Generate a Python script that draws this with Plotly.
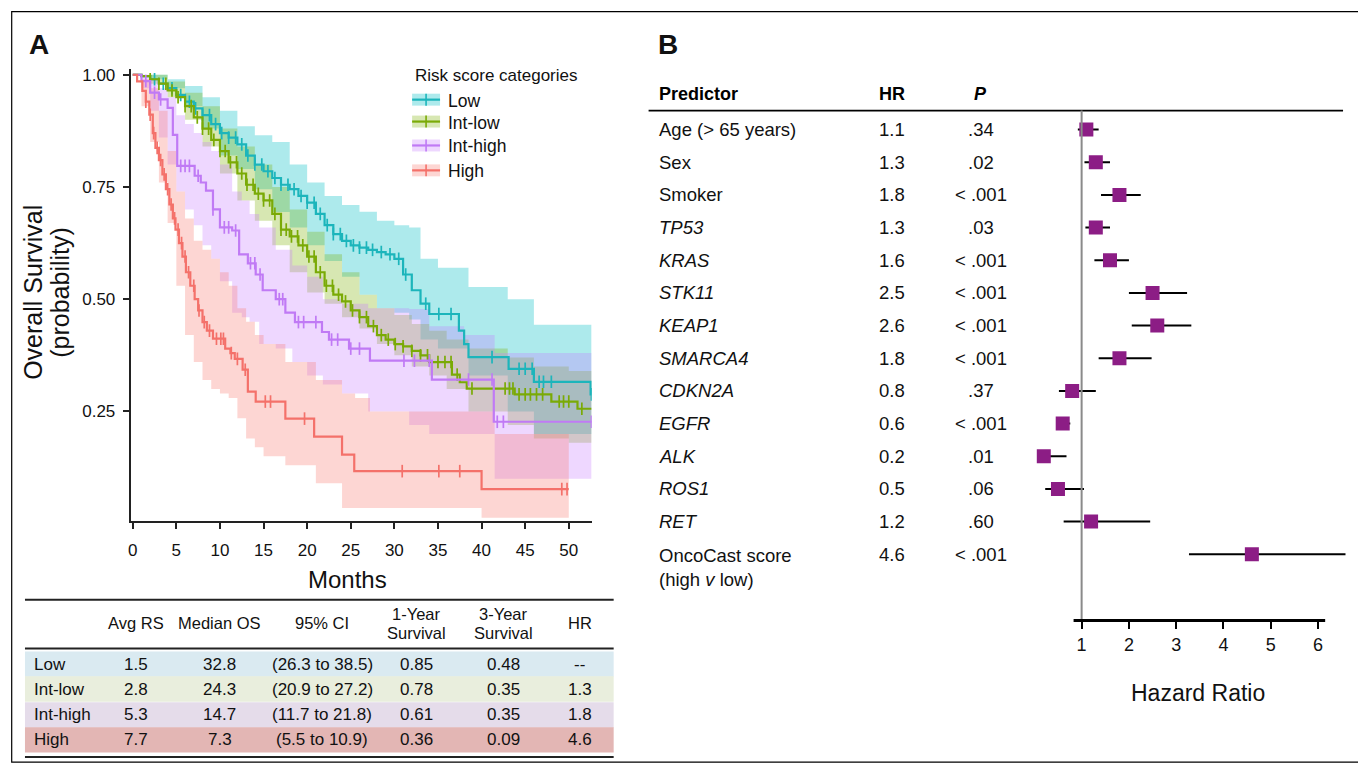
import numpy as np
import plotly.graph_objects as go

# page offset (browser body margin) compensation
OFF = 8
FW, FH = 1366 - OFF, 769 - OFF
FONT = "Liberation Sans, Arial, sans-serif"

# ---------------- Panel A: Kaplan-Meier data ----------------
groups = ["Low", "Int-low", "Int-high", "High"]
line_colors = ["#1CB5BB", "#7AAA06", "#C07AF5", "#F4716A"]
band_colors = ["rgba(0,191,196,0.32)", "rgba(124,174,0,0.30)",
               "rgba(199,124,255,0.30)", "rgba(248,118,109,0.30)"]

low_t = [0, 1, 2, 3, 4, 5, 6, 7, 8, 9, 10, 11, 12, 13, 14, 15, 16, 17, 18, 19, 20, 21, 22, 23, 24,
         25, 26, 27, 28, 29, 30, 31, 32, 33, 34, 37.4, 38, 38.5, 43.1, 46, 52.5, 52.6]
low_s = [1, .997, .99, .98, .97, .955, .94, .925, .91, .89, .87, .86, .845, .82, .80, .785, .77, .755,
         .745, .73, .715, .69, .665, .645, .63, .62, .615, .61, .605, .60, .59, .555, .52, .49, .467,
         .43, .40, .371, .345, .316, .288, .288]

intlow_t = [0, 1, 2, 3, 4, 5, 6, 7, 8, 9, 10, 11, 12, 13, 14, 15, 16, 17, 18, 19, 20, 21, 22, 23, 24,
            25, 26, 27, 28, 29, 30, 31, 32, 33, 34, 36.6, 37.5, 38.3, 43.8, 48, 51, 52.6]
intlow_s = [1, .997, .99, .98, .965, .95, .93, .905, .88, .855, .83, .805, .78, .755, .735, .72, .69,
            .655, .64, .62, .595, .56, .53, .51, .495, .475, .46, .44, .42, .41, .40, .395, .385, .375,
            .36, .332, .315, .301, .288, .272, .256, .256]

inthigh_t = [0, 1, 2, 3, 4, 4.6, 5.1, 7.1, 7.8, 8.4, 9.2, 10, 11.4, 12.2, 13.2, 14.1, 14.9, 16.4,
             17.5, 18.6, 21.7, 22.5, 24.8, 27.2, 34.3, 41.4, 52.6]
inthigh_s = [1, .986, .96, .945, .926, .866, .797, .775, .76, .742, .70, .66, .653, .60, .58, .555,
             .52, .50, .47, .449, .427, .41, .39, .363, .321, .227, .227]

high_t = [0, 0.5, 1.1, 1.5, 1.9, 2.3, 2.6, 3, 3.4, 3.8, 4.2, 4.6, 4.9, 5.3, 5.7, 6.1, 6.6, 7.1, 7.5,
          8, 8.5, 9.2, 10.6, 11.2, 11.7, 12.6, 13.2, 14.1, 17.5, 20.8, 24, 25.4, 40, 50]
high_s = [1, .985, .964, .94, .911, .87, .837, .81, .778, .745, .711, .68, .655, .625, .595, .56, .53,
          .50, .475, .449, .43, .412, .39, .38, .367, .343, .294, .272, .234, .194, .154, .117, .077,
          .077]

# censoring times
low_cens = [2.5, 3.5, 4.5, 5.5, 6.5, 7.2, 8, 8.8, 9.5, 10.2, 11, 11.8, 12.5, 13.2, 14, 14.8, 15.5,
            16.3, 17, 17.8, 18.5, 19.3, 20, 20.8, 21.5, 22.3, 23, 23.8, 24.5, 25.3, 26, 26.8, 27.5,
            28.5, 29.5, 30.5, 31.3, 33.6, 35.1, 36.5, 41.2, 44.3, 45, 45.8, 46.6, 47.1, 48, 52.6]
intlow_cens = [2, 3, 3.8, 4.5, 5.2, 6, 6.7, 7.4, 8, 8.7, 9.3, 10, 10.6, 11.2, 11.9, 12.5, 13.1, 13.8,
               14.4, 15, 15.7, 16.3, 17, 17.6, 18.2, 18.9, 19.5, 20.2, 20.8, 21.5, 22.2, 22.9, 23.6,
               24.4, 25.2, 26, 26.8, 27.6, 28.5, 29.3, 30.1, 31, 32, 33, 33.8, 35, 35.8, 36.5, 37.2,
               38.9, 42.7, 43.2, 43.6, 44.3, 45, 45.6, 46.3, 47, 48.9, 49.4, 50, 51.5]
inthigh_cens = [1.5, 2.5, 3.2, 5.5, 6, 6.5, 7.5, 9.2, 10.5, 11, 11.8, 13.5, 14, 14.6, 16.8, 17.2, 19,
                19.6, 21, 22.8, 23.5, 25, 26, 31.1, 32.3, 34, 38.5, 41.2, 41.8, 42.5, 52.6]
high_cens = [1.5, 2, 2.4, 2.8, 3.2, 3.6, 4, 4.4, 4.8, 5.2, 5.6, 6, 6.4, 7, 7.6, 8.2, 8.8, 9.6, 10.1,
             10.4, 11.3, 12, 12.9, 15.2, 15.8, 19.7, 30.9, 35.1, 37.5, 49.2, 49.8]

# 95% confidence bands (step)
low_band_t = [0, 2, 4, 6, 8, 10, 12, 14, 16, 18, 20, 22, 24, 26, 28, 30, 31.7, 33, 35, 38.5, 43, 46, 52.6]
low_up = [1, 1, .99, .975, .95, .92, .885, .865, .85, .80, .76, .73, .71, .695, .675, .665, .66, .59,
          .57, .527, .50, .443, .443]
low_lo = [1, .99, .97, .93, .88, .82, .79, .745, .694, .66, .62, .585, .55, .51, .48, .47, .455, .41,
          .39, .33, .25, .20, .18]

intlow_band_t = [0, 2, 4, 6, 8, 10, 12, 14, 16, 18, 20, 22, 24, 26, 28, 30, 32, 34, 36, 38.5, 43, 46, 50, 52.6]
intlow_up = [1, 1, .985, .96, .93, .88, .84, .80, .75, .70, .65, .60, .56, .51, .48, .465, .445, .43,
             .41, .39, .37, .35, .34, .33]
intlow_lo = [1, .98, .95, .90, .84, .78, .72, .675, .62, .56, .515, .49, .46, .435, .40, .375, .35,
             .33, .30, .25, .22, .19, .18, .18]

inthigh_band_t = [0, 1, 2, 3, 4, 5, 6, 7, 8, 9, 10, 11.4, 12.5, 13.4, 14.5, 16.4, 18.3, 20, 21.8, 24,
                  27, 31.7, 34, 38, 41.5, 52.6]
inthigh_up = [1, 1, .99, .97, .95, .91, .89, .87, .85, .83, .80, .74, .72, .69, .66, .61, .575, .55,
              .50, .49, .48, .478, .44, .42, .38, .38]
inthigh_lo = [1, .97, .92, .86, .80, .74, .70, .665, .62, .59, .54, .47, .46, .45, .40, .39, .36, .33,
              .31, .29, .25, .22, .20, .20, .10, .10]

high_band_t = [0, 1, 2, 3, 4, 5, 6, 7, 8, 9, 10, 11, 12, 13, 14, 15, 17.5, 21, 24, 25.5, 27.2, 40, 41.5, 50]
high_up = [1, .99, .97, .92, .83, .74, .68, .63, .61, .59, .56, .53, .48, .45, .42, .40, .36, .32,
           .29, .28, .25, .25, .20, .20]
high_lo = [1, .93, .85, .76, .67, .53, .42, .36, .32, .30, .29, .28, .235, .19, .17, .15, .13, .09,
           .035, .035, .035, .013, .013, .013]

km_x_ticks = [0, 5, 10, 15, 20, 25, 30, 35, 40, 45, 50]
km_y_ticks = [0.25, 0.50, 0.75, 1.00]
km_y_ticktext = ["0.25", "0.50", "0.75", "1.00"]

# Table (panel A)
table_headers = ["Avg RS", "Median OS", "95% CI", "1-Year<br>Survival", "3-Year<br>Survival", "HR"]
table_rows = ["Low", "Int-low", "Int-high", "High"]
avg_rs = ["1.5", "2.8", "5.3", "7.7"]
median_os = ["32.8", "24.3", "14.7", "7.3"]
ci95 = ["(26.3 to 38.5)", "(20.9 to 27.2)", "(11.7 to 21.8)", "(5.5 to 10.9)"]
surv_1y = ["0.85", "0.78", "0.61", "0.36"]
surv_3y = ["0.48", "0.35", "0.35", "0.09"]
hr_table = ["--", "1.3", "1.8", "4.6"]
row_fills = ["#DAEAF1", "#E9EEDD", "#E5DCEA", "#E3B6B4"]

# ---------------- Panel B: forest plot data ----------------
predictors = ["Age (> 65 years)", "Sex", "Smoker", "<i>TP53</i>", "<i>KRAS</i>", "<i>STK11</i>",
              "<i>KEAP1</i>", "<i>SMARCA4</i>", "<i>CDKN2A</i>", "<i>EGFR</i>", "<i>ALK</i>",
              "<i>ROS1</i>", "<i>RET</i>", "OncoCast score<br>(high <i>v</i> low)"]
hr_vals = [1.1, 1.3, 1.8, 1.3, 1.6, 2.5, 2.6, 1.8, 0.8, 0.6, 0.2, 0.5, 1.2, 4.6]
hr_low = [0.92, 1.06, 1.41, 1.08, 1.27, 2.0, 2.06, 1.36, 0.52, 0.5, 0.12, 0.23, 0.62, 3.27]
hr_high = [1.36, 1.6, 2.25, 1.6, 2.0, 3.23, 3.32, 2.48, 1.3, 0.76, 0.68, 1.05, 2.45, 6.58]
p_vals = [".34", ".02", "< .001", ".03", "< .001", "< .001", "< .001", "< .001", ".37", "< .001",
          ".01", ".06", ".60", "< .001"]
forest_ticks = [1, 2, 3, 4, 5, 6]


def px(x):
    return (x - OFF) / FW


def py(y):
    return 1 - (y - OFF) / FH


def note(text, x, y, size, xanchor="center", yanchor="middle", **kw):
    d = dict(text=text, x=px(x), y=py(y), xref="paper", yref="paper", showarrow=False,
             xanchor=xanchor, yanchor=yanchor, font=dict(family=FONT, size=size, color="#111"))
    d.update(kw)
    return d


fig = go.Figure()

km_t = [low_t, intlow_t, inthigh_t, high_t]
km_s = [low_s, intlow_s, inthigh_s, high_s]
km_c = [low_cens, intlow_cens, inthigh_cens, high_cens]
band_t = [low_band_t, intlow_band_t, inthigh_band_t, high_band_t]
band_up = [low_up, intlow_up, inthigh_up, high_up]
band_lo = [low_lo, intlow_lo, inthigh_lo, high_lo]

for i in range(4):
    fig.add_trace(go.Scatter(x=band_t[i], y=band_lo[i], mode="lines",
                             line=dict(width=0, shape="hv"), hoverinfo="skip",
                             showlegend=False, xaxis="x", yaxis="y"))
    fig.add_trace(go.Scatter(x=band_t[i], y=band_up[i], mode="lines",
                             line=dict(width=0, shape="hv"), fill="tonexty",
                             fillcolor=band_colors[i], hoverinfo="skip",
                             showlegend=False, xaxis="x", yaxis="y"))

for i in range(4):
    fig.add_trace(go.Scatter(x=km_t[i], y=km_s[i], mode="lines", name=groups[i],
                             line=dict(color=line_colors[i], width=2.2, shape="hv"),
                             showlegend=False, xaxis="x", yaxis="y"))
    t = np.array(km_t[i])
    s = np.array(km_s[i])
    c = np.array(km_c[i])
    idx = np.clip(np.searchsorted(t, c, side="right") - 1, 0, len(s) - 1)
    fig.add_trace(go.Scatter(x=c, y=s[idx], mode="markers", showlegend=False,
                             marker=dict(symbol="line-ns", size=9,
                                         line=dict(color=line_colors[i], width=1.7)),
                             xaxis="x", yaxis="y"))

# forest plot
ypos = list(range(len(predictors)))
fig.add_trace(go.Scatter(
    x=hr_vals, y=ypos, mode="markers", xaxis="x2", yaxis="y2", showlegend=False,
    marker=dict(symbol="square", size=14, color="#8C1D85"),
    error_x=dict(type="data", symmetric=False,
                 array=[h - v for h, v in zip(hr_high, hr_vals)],
                 arrayminus=[v - l for l, v in zip(hr_low, hr_vals)],
                 thickness=2, width=0, color="black")))

shapes = []
annotations = []

# outer frame (clipped to the figure)
shapes.append(dict(type="rect", xref="paper", yref="paper", x0=px(OFF + 0.7), x1=px(1360),
                   y0=py(762), y1=py(OFF + 0.7), line=dict(color="black", width=1.2)))

# panel letters
annotations.append(note("<b>A</b>", 36, 42, 28))
annotations.append(note("<b>B</b>", 666, 42, 28))

# KM axis titles
annotations.append(note("Overall Survival", 30, 290, 25, textangle=-90))
annotations.append(note("(probability)", 57, 290, 25, textangle=-90))
annotations.append(note("Months", 345, 579, 24))

# KM legend
annotations.append(note("Risk score categories", 411, 73, 17, xanchor="left"))
legend_y = [97, 119, 143, 168]
for i in range(4):
    yc = legend_y[i]
    shapes.append(dict(type="rect", xref="paper", yref="paper", x0=px(410), x1=px(438),
                       y0=py(yc + 6), y1=py(yc - 6), fillcolor=band_colors[i],
                       line=dict(width=0)))
    shapes.append(dict(type="line", xref="paper", yref="paper", x0=px(410), x1=px(438),
                       y0=py(yc), y1=py(yc), line=dict(color=line_colors[i], width=2.2)))
    shapes.append(dict(type="line", xref="paper", yref="paper", x0=px(424), x1=px(424),
                       y0=py(yc + 6), y1=py(yc - 6), line=dict(color=line_colors[i], width=1.6)))
    annotations.append(note(groups[i], 444, yc + 1, 17.5, xanchor="left"))

# ---------------- table ----------------
tab_x0, tab_x1 = 22, 612
row_top = [651, 676, 702, 727]
row_h = 25.5
for i in range(4):
    shapes.append(dict(type="rect", xref="paper", yref="paper", x0=px(tab_x0), x1=px(tab_x1),
                       y0=py(row_top[i] + row_h), y1=py(row_top[i]), fillcolor=row_fills[i],
                       line=dict(width=0), layer="below"))
for yl in [599, 648, 757]:
    shapes.append(dict(type="line", xref="paper", yref="paper", x0=px(tab_x0), x1=px(tab_x1),
                       y0=py(yl), y1=py(yl), line=dict(color="#222", width=2)))

col_x = [133, 217, 320, 414, 502, 578]
for j, htxt in enumerate(table_headers):
    parts = htxt.split("<br>")
    ys = [622] if len(parts) == 1 else [613, 632]
    for part, yy in zip(parts, ys):
        annotations.append(note(part, col_x[j], yy, 16.5))

columns = [avg_rs, median_os, ci95, surv_1y, surv_3y, hr_table]
for i in range(4):
    yc = row_top[i] + row_h / 2
    annotations.append(note(table_rows[i], 29, yc, 17, xanchor="left"))
    for j, col in enumerate(columns):
        annotations.append(note(col[i], col_x[j], yc, 17))

# ---------------- forest plot text ----------------
annotations.append(note("<b>Predictor</b>", 655, 91, 18, xanchor="left",
                        font=dict(family=FONT, size=18, color="black")))
annotations.append(note("<b>HR</b>", 891, 91, 18, font=dict(family=FONT, size=18, color="black")))
annotations.append(note("<b><i>P</i></b>", 980, 91, 18, font=dict(family=FONT, size=18, color="black")))
shapes.append(dict(type="line", xref="paper", yref="paper", x0=px(647), x1=px(1343),
                   y0=py(108), y1=py(108), line=dict(color="black", width=1.6)))

for i, name in enumerate(predictors):
    multi = "<br>" in name
    annotations.append(dict(text=name, x=px(655), y=i, xref="paper", yref="y2",
                            xanchor="left", yanchor="top" if multi else "middle",
                            yshift=11 if multi else 0, align="left", showarrow=False,
                            font=dict(family=FONT, size=18.5, color="#111")))
    annotations.append(dict(text=f"{hr_vals[i]:.1f}", x=px(891), y=i, xref="paper", yref="y2",
                            xanchor="center", yanchor="middle", showarrow=False,
                            font=dict(family=FONT, size=18.5, color="#111")))
    annotations.append(dict(text=p_vals[i], x=px(980), y=i, xref="paper", yref="y2",
                            xanchor="center", yanchor="middle", showarrow=False,
                            font=dict(family=FONT, size=18.5, color="#111")))

# reference line at HR = 1 and axis line
shapes.append(dict(type="line", xref="x2", yref="paper", x0=1, x1=1, y0=py(620), y1=py(108),
                   line=dict(color="#8A8A8A", width=2)))
shapes.append(dict(type="line", xref="x2", yref="paper", x0=0.83, x1=6.15, y0=py(620),
                   y1=py(620), line=dict(color="black", width=3)))
annotations.append(note("Hazard Ratio", 1198, 693, 23))

fig.update_layout(
    width=FW, height=FH,
    margin=dict(l=0, r=0, t=0, b=0),
    paper_bgcolor="white", plot_bgcolor="white",
    showlegend=False,
    xaxis=dict(domain=[px(128), px(590)], range=[-0.23, 52.63], tickvals=km_x_ticks,
               ticks="outside", ticklen=6, tickwidth=1.5, tickcolor="#222",
               showline=True, linewidth=2, linecolor="#222", showgrid=False, zeroline=False,
               tickfont=dict(family=FONT, size=17, color="#111"), ticklabelstandoff=7,
               anchor="y"),
    yaxis=dict(domain=[py(520), py(66)], range=[0.006, 1.0133], tickvals=km_y_ticks,
               ticktext=km_y_ticktext, ticks="outside", ticklen=6, tickwidth=1.5,
               tickcolor="#222", showline=True, linewidth=2, linecolor="#222",
               showgrid=False, zeroline=False,
               tickfont=dict(family=FONT, size=17, color="#111"), ticklabelstandoff=4,
               anchor="x"),
    xaxis2=dict(domain=[px(1033.6), px(1346.4)], range=[0, 6.6], tickvals=forest_ticks,
                ticks="outside", ticklen=7, tickwidth=2, tickcolor="black",
                showline=False, showgrid=False, zeroline=False,
                tickfont=dict(family=FONT, size=18, color="#111"), ticklabelstandoff=1,
                anchor="y2"),
    yaxis2=dict(domain=[py(620), py(108)], range=[15.03, -0.58], visible=False,
                anchor="x2"),
    shapes=shapes,
    annotations=annotations,
)

fig.write_html("out.html")
